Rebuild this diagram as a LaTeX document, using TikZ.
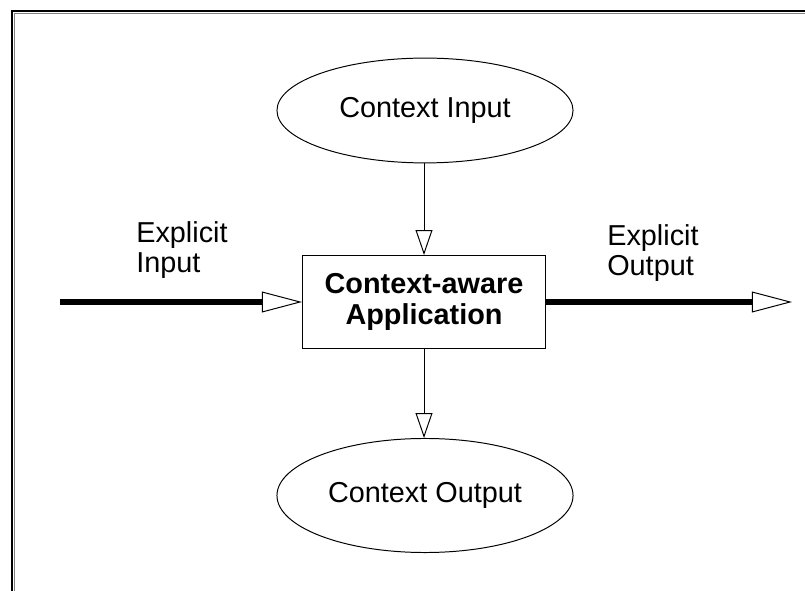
\documentclass[tikz,border=0pt]{standalone}
\usepackage{fontspec}
\setmainfont{Liberation Sans}
\usetikzlibrary{shapes.geometric, arrows.meta}

\begin{document}
\begin{tikzpicture}[x=0.025cm, y=-0.025cm,
	txt/.style={font=\fontsize{20.5}{21.5}\selectfont, inner sep=0pt},
	ctx/.style={draw, ellipse, line width=0.7pt, inner sep=0pt, font=\fontsize{20.5}{21.5}\selectfont},
	app/.style={draw, rectangle, line width=0.7pt, minimum width=6.075cm, minimum height=2.325cm, align=center, font=\fontsize{20.5}{22.5}\selectfont\bfseries},
	thin/.style={line width=0.7pt, -{Triangle[open, length=0.62cm, width=0.42cm]}},
	fat/.style={line width=4.3pt, -{Triangle[open, length=1cm, width=0.52cm, line width=0.7pt]}}]
	\useasboundingbox (0,0) rectangle (805,591);

	% frame, open at right and bottom
	\draw[line width=1.4pt] (12,591) -- (12,11) -- (805,11);
	\draw[gray, line width=0.6pt] (14.5,591) -- (14.5,13.5) -- (805,13.5);

	\node[ctx, minimum width=7.4cm, minimum height=2.62cm] (cin) at (425,110.5) {Context Input};
	\node[app] (app) at (424,302) {Context-aware\\Application};
	\node[ctx, minimum width=7.4cm, minimum height=2.85cm] (cout) at (425,495.5) {Context Output};

	\node[txt, align=left, anchor=west] (ein) at (136,250) {Explicit\\Input};
	\node[txt, align=left, anchor=west] (eout) at (607,253) {Explicit\\Output};

	\coordinate (src) at (60,302);
	\coordinate (snk) at (792,302);

	\draw[fat] (src) -- (app.west);
	\draw[fat] (app.east) -- (snk);
	\draw[thin] (cin.south -| app.north) -- (app.north);
	\draw[thin] (app.south) -- (app.south |- cout.north);

\end{tikzpicture}
\end{document}
